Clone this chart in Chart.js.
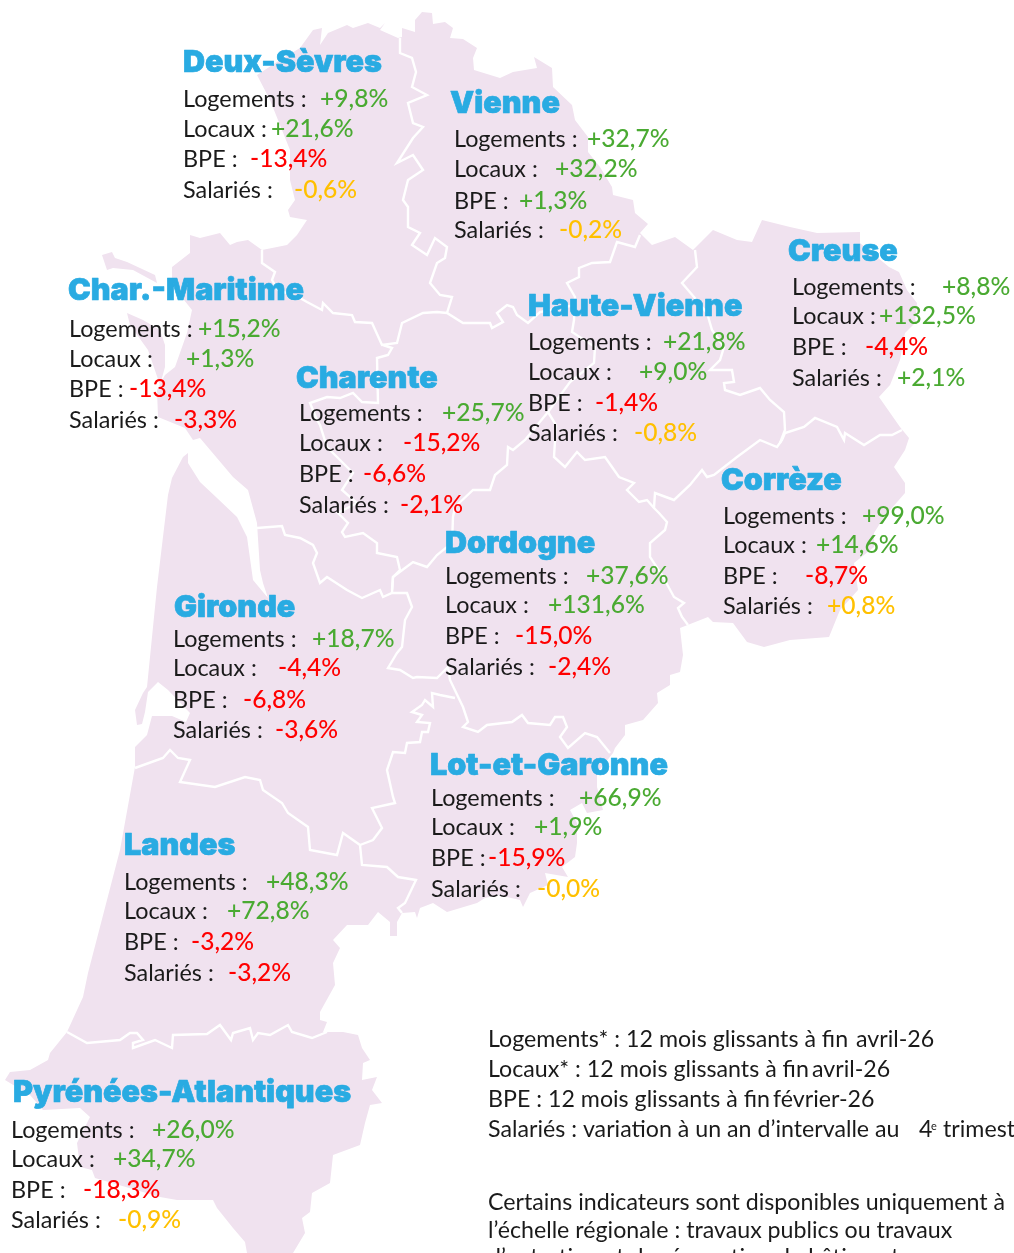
<!DOCTYPE html>
<html lang="fr">
<head>
<meta charset="utf-8">
<title>Nouvelle-Aquitaine</title>
<script src="https://cdn.jsdelivr.net/npm/chart.js@4"></script>
<style>
  html, body { margin: 0; padding: 0; background: #fff; overflow: hidden; }
  canvas { display: block; }
</style>
</head>
<body>
<canvas id="map" width="1014" height="1253"></canvas>
<script>
// Indicators per department
const departments = ["Deux-Sèvres", "Vienne", "Char.-Maritime", "Charente", "Haute-Vienne", "Creuse", "Corrèze", "Dordogne", "Gironde", "Lot-et-Garonne", "Landes", "Pyrénées-Atlantiques"];
const logements = [9.8, 32.7, 15.2, 25.7, 21.8, 8.8, 99.0, 37.6, 18.7, 66.9, 48.3, 26.0];
const locaux = [21.6, 32.2, 1.3, -15.2, 9.0, 132.5, 14.6, 131.6, -4.4, 1.9, 72.8, 34.7];
const bpe = [-13.4, 1.3, -13.4, -6.6, -1.4, -4.4, -8.7, -15.0, -6.8, -15.9, -3.2, -18.3];
const salaries = [-0.6, -0.2, -3.3, -2.1, -0.8, 2.1, 0.8, -2.4, -3.6, -0.0, -3.2, -0.9];
const rowLabels = ["Logements :", "Locaux :", "BPE :", "Salariés :"];

// Text layout, same order as departments
const titleX = [183, 450, 68, 296, 528, 788, 721, 445, 174, 430, 124, 13];
const titleY = [72, 113, 300, 388, 316, 261, 490, 553, 617, 775, 855, 1102];
const labelX = [183, 454, 69, 299, 528, 792, 723, 445, 173, 431, 124, 11];
const rowY = [
  [107, 137, 167, 198], [147, 177, 209, 238], [337, 367, 397, 428], [421, 451, 482, 513],
  [350, 380, 411, 441], [295, 324, 355, 386], [524, 553, 584, 614], [584, 613, 644, 675],
  [647, 676, 708, 738], [806, 835, 866, 897], [890, 919, 950, 981], [1138, 1167, 1198, 1228]
];
const valueX = [
  [320, 271, 250, 294], [587, 555, 519, 559], [198, 186, 129, 174], [442, 403, 363, 400],
  [663, 639, 595, 634], [942, 879, 865, 897], [862, 816, 805, 827], [586, 548, 515, 548],
  [312, 278, 243, 275], [579, 534, 488, 537], [266, 227, 191, 228], [152, 113, 83, 118]
];

// Footnotes: [text, x, baseline]
const notes = [
  ["Logements* : 12 mois glissants à fin", 488, 1047], ["avril-26", 856, 1047],
  ["Locaux* : 12 mois glissants à fin", 488, 1077], ["avril-26", 812, 1077],
  ["BPE : 12 mois glissants à fin", 488, 1107], ["février-26", 773, 1107],
  ["Salariés : variation à un an d’intervalle au", 488, 1137], ["4", 919, 1137], ["trimestre 2025", 943, 1137],
  ["Certains indicateurs sont disponibles uniquement à", 488, 1210],
  ["l’échelle régionale : travaux publics ou travaux", 488, 1238],
  ["d’entretien et de rénovation de bâtiments.", 488, 1265]
];

// Map outlines, in page units
const regionOutline = [[415,20],[422,12],[432,13],[433,24],[445,22],[453,28],[450,38],[463,39],[477,48],[473,58],[474,70],[500,78],[513,72],[537,68],[534,57],[552,68],[553,87],[572,105],[575,120],[588,137],[588,152],[600,167],[612,187],[613,195],[633,200],[635,213],[648,224],[640,233],[652,245],[675,237],[693,250],[713,230],[737,240],[752,242],[762,220],[790,227],[817,233],[860,232],[860,243],[889,267],[899,272],[907,290],[917,303],[915,323],[905,333],[900,360],[890,385],[879,397],[900,427],[909,438],[905,450],[894,467],[905,483],[905,493],[884,517],[874,533],[874,547],[854,563],[858,590],[840,610],[829,637],[790,640],[764,647],[747,642],[733,623],[713,622],[708,617],[680,628],[683,655],[680,672],[670,675],[670,685],[657,693],[658,703],[643,720],[625,725],[625,735],[615,748],[613,753],[597,773],[597,787],[603,810],[587,813],[582,803],[570,810],[577,823],[577,843],[575,857],[562,867],[568,877],[545,873],[548,885],[530,893],[523,907],[520,900],[498,895],[485,898],[477,903],[447,912],[433,903],[420,908],[417,918],[415,912],[402,913],[397,922],[397,936],[390,936],[390,922],[378,912],[368,925],[347,925],[333,940],[340,948],[333,963],[335,985],[325,1003],[320,1012],[320,1020],[327,1022],[323,1032],[343,1032],[358,1035],[362,1048],[370,1060],[363,1063],[362,1080],[377,1077],[372,1090],[382,1103],[370,1105],[365,1123],[360,1145],[333,1155],[330,1183],[312,1193],[310,1212],[302,1218],[305,1233],[293,1253],[247,1253],[245,1242],[233,1228],[217,1208],[213,1200],[177,1200],[160,1197],[95,1178],[92,1170],[80,1167],[77,1143],[90,1117],[80,1108],[43,1110],[30,1095],[5,1080],[10,1072],[30,1070],[48,1060],[50,1053],[67,1032],[83,997],[88,973],[120,850],[135,767],[135,747],[147,735],[152,716],[172,716],[186,722],[190,713],[168,690],[158,682],[148,692],[145,712],[142,724],[137,725],[135,710],[143,693],[147,687],[157,587],[168,495],[172,478],[183,457],[188,453],[188,463],[200,482],[217,498],[237,517],[247,537],[253,580],[268,598],[263,583],[260,570],[257,523],[248,490],[233,477],[200,438],[193,440],[185,428],[158,417],[157,390],[165,375],[175,367],[187,333],[192,310],[172,285],[172,267],[190,253],[190,235],[200,238],[220,233],[230,245],[237,242],[248,240],[262,250],[287,245],[297,235],[307,220],[290,217],[288,210],[295,200],[290,180],[290,150],[280,125],[270,100],[257,75],[280,60],[300,48],[313,30],[322,28],[320,45],[328,33],[347,25],[353,28],[368,23],[380,28],[385,23],[380,30],[398,38],[402,37],[402,28],[415,32]];
const islandRe = [[102,255],[112,252],[115,258],[127,262],[155,275],[157,283],[133,270],[113,268],[107,270]];
const islandOleron = [[127,313],[143,320],[160,330],[165,345],[165,367],[160,385],[148,350],[130,325]];

const borders = [
  [[400,38],[400,53],[412,58],[416,72],[412,87],[427,95],[408,103],[413,123],[423,127],[413,138],[397,163],[413,155],[423,170],[408,180],[403,200],[408,207],[408,227],[420,233],[412,245],[427,255],[435,238],[447,247],[445,258],[437,263],[430,283],[440,295],[452,297],[447,313]],
  [[262,250],[262,263],[275,272],[272,280],[278,290],[300,298],[307,302],[322,310],[323,303],[333,313],[352,315],[355,322],[372,323],[382,345],[397,343],[402,323],[423,313],[437,312],[447,313],[463,323],[490,323],[492,328],[503,322],[497,313],[507,305],[513,307],[517,315],[528,323],[540,312],[575,305]],
  [[383,345],[392,348],[388,355],[377,358],[378,403],[362,402],[353,393],[340,398],[327,397],[310,403],[317,420],[320,425],[327,447],[337,457],[353,473],[342,490],[357,503],[338,513],[348,523],[342,532],[345,537],[363,533],[377,543],[377,553],[397,557],[400,570],[393,577],[392,593]],
  [[257,528],[282,526],[285,535],[300,538],[313,545],[317,553],[313,563],[320,583],[327,577],[347,590],[362,598],[380,590],[383,597],[392,593],[407,593],[412,607],[405,620],[402,647],[397,653],[388,668],[400,670],[413,678],[417,677],[437,678],[448,667],[450,680],[463,707],[468,722],[463,727],[478,732],[487,725],[512,722],[522,715],[528,723],[550,725],[555,717],[563,717],[567,727],[560,737],[568,748],[585,733],[597,737],[610,753]],
  [[455,698],[440,695],[432,693],[433,707],[425,700],[422,705],[412,712],[422,715],[417,722],[430,723],[428,732],[422,732],[420,742],[407,743],[405,753],[393,752],[387,770],[393,797],[395,803],[372,808],[382,828],[373,840],[360,845]],
  [[135,768],[163,758],[170,750],[178,758],[190,760],[180,782],[215,787],[245,777],[260,780],[263,790],[282,803],[288,813],[308,827],[310,850],[337,855],[343,833],[360,845],[362,865],[387,867],[398,877],[416,880],[405,903],[398,908],[402,913]],
  [[67,1032],[87,1043],[120,1040],[130,1033],[137,1033],[143,1040],[133,1043],[133,1048],[155,1040],[172,1048],[173,1035],[207,1034],[220,1025],[231,1040],[233,1033],[250,1028],[253,1040],[258,1033],[270,1035],[288,1025],[292,1032],[312,1038],[327,1032]],
  [[392,590],[393,577],[413,562],[427,567],[437,555],[452,543],[453,517],[455,507],[473,490],[490,490],[495,475],[507,465],[508,447],[513,450],[525,440],[548,412],[570,382],[594,363],[595,347],[572,332],[574,320],[575,297],[567,283],[579,277],[579,268],[592,263],[610,262],[617,242],[635,247],[640,235]],
  [[548,412],[556,425],[554,457],[565,467],[577,452],[585,460],[605,457],[612,467],[619,477],[634,483],[627,490],[639,502],[647,500],[654,508],[659,513],[667,522],[665,530],[650,543],[650,557],[662,575],[674,597],[684,603],[678,608],[682,617],[688,625]],
  [[654,508],[655,493],[674,500],[690,485],[702,470],[707,477],[714,475],[737,457],[760,440],[777,447],[782,440],[785,433],[804,427],[815,418],[837,427],[844,440],[845,433],[864,445],[880,435],[892,435],[902,430]],
  [[695,250],[697,267],[682,283],[694,297],[707,313],[712,330],[724,347],[720,360],[710,370],[732,370],[734,382],[724,383],[725,390],[740,395],[760,388],[770,400],[784,412],[785,430],[780,443]]
];

const PINK = "#f0e2ef";
const BLUE = "#29abe2";
const TEXT_FONT = "Lato";

function toPoints(list) {
  return list.map(p => ({ x: p[0], y: p[1] }));
}

function shapeDataset(list) {
  return {
    data: toPoints(list.concat([list[0]])),
    showLine: true,
    fill: "shape",
    backgroundColor: PINK,
    borderWidth: 0,
    pointRadius: 0,
    tension: 0,
    order: 2
  };
}

function borderDataset(list) {
  return {
    data: toPoints(list),
    showLine: true,
    fill: false,
    borderColor: "#ffffff",
    borderWidth: 2.4,
    pointRadius: 0,
    tension: 0,
    order: 1
  };
}

// Green above +1, red below -1, orange in between
function valueColor(v) {
  if (v > 1) return "#4aaa32";
  if (v < -1) return "#ff0000";
  return "#ffc000";
}

function formatValue(v) {
  const sign = v < 0 || Object.is(v, -0) ? "-" : "+";
  return sign + Math.abs(v).toFixed(1).replace(".", ",") + "%";
}

const textPlugin = {
  id: "mapText",
  afterDraw(chart) {
    const { ctx, scales } = chart;
    const px = v => scales.x.getPixelForValue(v);
    const py = v => scales.y.getPixelForValue(v);
    ctx.save();
    ctx.textBaseline = "alphabetic";
    ctx.textAlign = "left";
    ctx.lineJoin = "round";

    departments.forEach((name, i) => {
      ctx.font = "900 30.5px Inter";
      ctx.fillStyle = BLUE;
      ctx.strokeStyle = BLUE;
      ctx.lineWidth = 0.7;
      ctx.fillText(name, px(titleX[i]), py(titleY[i]));
      ctx.strokeText(name, px(titleX[i]), py(titleY[i]));
      const values = [logements[i], locaux[i], bpe[i], salaries[i]];
      rowLabels.forEach((label, r) => {
        ctx.font = "400 23.4px " + TEXT_FONT;
        ctx.fillStyle = "#1a1a1a";
        ctx.fillText(label, px(labelX[i]), py(rowY[i][r]));
        ctx.font = "500 24.6px " + TEXT_FONT;
        ctx.fillStyle = valueColor(values[r]);
        ctx.fillText(formatValue(values[r]), px(valueX[i][r]), py(rowY[i][r]));
      });
    });

    ctx.font = "400 23.2px " + TEXT_FONT;
    ctx.fillStyle = "#1a1a1a";
    notes.forEach(n => ctx.fillText(n[0], px(n[1]), py(n[2])));
    ctx.font = "400 11px " + TEXT_FONT;
    ctx.fillText("e", px(931), py(1130));
    ctx.restore();
  }
};

new Chart(document.getElementById("map"), {
  type: "scatter",
  data: {
    datasets: borders.map(borderDataset).concat([regionOutline, islandRe, islandOleron].map(shapeDataset))
  },
  options: {
    responsive: false,
    animation: false,
    layout: { padding: 0 },
    plugins: { legend: { display: false }, tooltip: { enabled: false } },
    scales: {
      x: { type: "linear", display: false, min: 0, max: 1014 },
      y: { type: "linear", display: false, min: 0, max: 1253, reverse: true }
    }
  },
  plugins: [textPlugin]
});
</script>
</body>
</html>
